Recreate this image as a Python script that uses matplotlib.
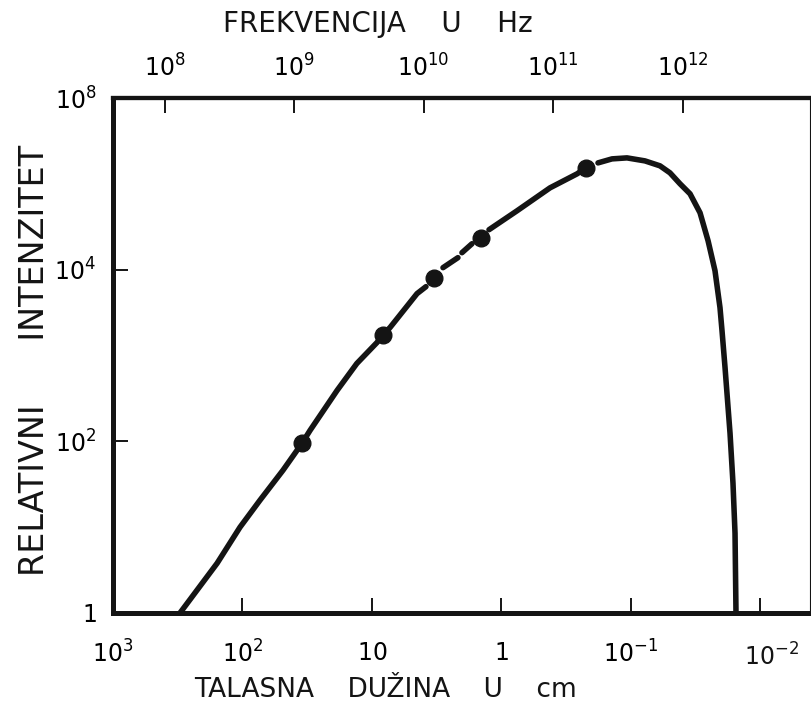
import numpy as np
import matplotlib
matplotlib.use("Agg")
import matplotlib.pyplot as plt
from matplotlib.ticker import FixedLocator, NullLocator

# Measured points: wavelength (cm) and relative intensity
point_wavelength = [34.7, 8.2, 3.3, 1.44, 0.222]
point_intensity = [95, 1750, 7900, 23500, 153000]

# Spectrum curve, drawn in pieces (NaN marks a break in the pen stroke)
curve_wavelength = [
    304, 157, 104.5, 73.3, 48.7, 34.7, 30.1, 18.6, 13.1, 9.15, 8.23, 7.26, 4.49, 3.83,
    np.nan, 2.83, 2.17,
    np.nan, 2.02, 1.69,
    np.nan, 1.249, 0.759, 0.422, 0.261, 0.2226,
    np.nan, 0.1798, 0.1402, 0.1074, 0.0780, 0.0597, 0.0500, 0.0418, 0.0350, 0.0293,
    0.0254, 0.02246, 0.02055, 0.01983, 0.01879, 0.01719, 0.01631, 0.01573, 0.01546,
]
curve_intensity = [
    1, 3.8, 10, 20.6, 46, 95, 134, 392, 807, 1417, 1754, 2117, 5260, 6340,
    np.nan, 10550, 13800,
    np.nan, 15770, 20050,
    np.nan, 29200, 48500, 89800, 130700, 153500,
    np.nan, 175400, 195300, 200600, 185000, 162000, 134300, 100000, 76500, 46000,
    21700, 9730, 3615, 1954, 725, 124, 32.5, 8.5, 1,
]

# Axis ticks
wavelength_ticks = [1e3, 1e2, 1e1, 1e0, 1e-1, 1e-2]
wavelength_labels = ["$10^3$", "$10^2$", "$10$", "$1$", "$10^{-1}$", "$10^{-2}$"]
frequency_ticks = [1e8, 1e9, 1e10, 1e11, 1e12]
frequency_labels = ["$10^8$", "$10^9$", "$10^{10}$", "$10^{11}$", "$10^{12}$"]
intensity_ticks = [1, 1e2, 1e4, 1e6]
intensity_labels = ["$1$", "$10^2$", "$10^4$", "$10^8$"]

# frequency (Hz) = NU_LAMBDA / wavelength (cm)
NU_LAMBDA = 4.0e10

INK = "#141414"
plt.rcParams["font.family"] = ["DejaVu Sans"]
plt.rcParams["mathtext.fontset"] = "dejavusans"

W, H = 812, 713
fig = plt.figure(figsize=(W / 100, H / 100), dpi=100)
ax = fig.add_axes([113 / W, (H - 613) / H, 698 / W, 515 / H])

lam_left, lam_right = 1e3, 10 ** (3 - 698 / 129.5)
ax.set_xscale("log")
ax.set_yscale("log")
ax.set_xlim(lam_left, lam_right)
ax.set_ylim(1, 1e6)

ax.plot(curve_wavelength, curve_intensity, color=INK, lw=4.0,
        solid_capstyle="round", solid_joinstyle="round")
ax.plot(point_wavelength, point_intensity, "o", color=INK, ms=12, mec=INK)

ax.xaxis.set_major_locator(FixedLocator(wavelength_ticks))
ax.xaxis.set_minor_locator(NullLocator())
# the last wavelength label is written a little to the right of its tick
ax.set_xticklabels(wavelength_labels[:-1] + [""])
ax.annotate(wavelength_labels[-1], xy=(wavelength_ticks[-1], 0),
            xycoords=("data", "axes fraction"), xytext=(8, -32),
            textcoords="offset points", ha="center", va="center",
            fontsize=17, color=INK, annotation_clip=False)
ax.yaxis.set_major_locator(FixedLocator(intensity_ticks))
ax.yaxis.set_minor_locator(NullLocator())
ax.set_yticklabels(intensity_labels)

ax.tick_params(axis="x", which="both", direction="in", length=11, width=1.4,
               color=INK, labelsize=17, pad=20, top=False)
ax.tick_params(axis="y", which="both", direction="in", length=11, width=1.4,
               color=INK, labelsize=17, pad=12, right=False)

# Frequency scale along the top edge
top = ax.twiny()
top.set_xscale("log")
top.set_xlim(NU_LAMBDA / lam_left, NU_LAMBDA / lam_right)
top.xaxis.set_major_locator(FixedLocator(frequency_ticks))
top.xaxis.set_minor_locator(NullLocator())
top.set_xticklabels(frequency_labels)
top.tick_params(axis="x", which="both", direction="in", length=11, width=1.4,
                color=INK, labelsize=17, pad=12, bottom=False)

for a in (ax, top):
    for side in ["left", "bottom", "top", "right"]:
        a.spines[side].set_color(INK)
    a.spines["left"].set_linewidth(3.6)
    a.spines["bottom"].set_linewidth(3.6)
    a.spines["top"].set_linewidth(3.0)
    a.spines["right"].set_linewidth(2.2)

fig.text(378 / W, 1 - 24 / H, "FREKVENCIJA    U    Hz", ha="center", va="center",
         fontsize=20, color=INK)
fig.text(386 / W, 1 - 690 / H, "TALASNA    DUŽINA    U    cm", ha="center", va="center",
         fontsize=19, color=INK)
fig.text(35 / W, 1 - 360 / H, "RELATIVNI      INTENZITET", ha="center", va="center",
         rotation=90, fontsize=24, color=INK)

fig.savefig("out.png", dpi=100)
